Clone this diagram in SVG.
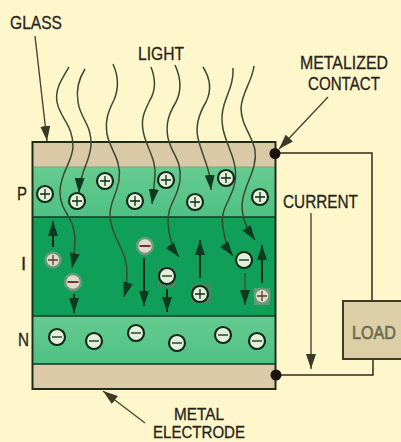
<svg xmlns="http://www.w3.org/2000/svg" width="401" height="442" viewBox="0 0 401 442">
<style>
.t{font-family:"Liberation Sans",Arial,sans-serif;font-size:18.5px;fill:#26241a;stroke:#26241a;stroke-width:.3px}
.f{font-size:16px}
.w{fill:none;stroke:#3a4a30;stroke-width:1.500}
.l{fill:none;stroke:#4a4632;stroke-width:1.400}
.s{fill:none;stroke:#302c1c;stroke-width:1.500}
.c{fill:#e2f0da;stroke:#0d2a18;stroke-width:2.200}
.d{fill:#dcdcc8;stroke:#6a9a7c;stroke-width:2.500}
.b{fill:none;stroke:#0d2a18;stroke-width:1.300}
</style>
<defs>
<marker id="h2" markerUnits="userSpaceOnUse" markerWidth="16" markerHeight="10" refX="15" refY="5" orient="auto"><path d="M0 0 L15 5 L0 10Z" fill="#0c3a20"/></marker>
<marker id="g" markerUnits="userSpaceOnUse" markerWidth="16" markerHeight="10" refX="15" refY="5" orient="auto"><path d="M0 0 L15 5 L0 10Z" fill="#3a3a28"/></marker>
<linearGradient id="pn" x1="0" y1="0" x2="0" y2="1"><stop offset="0" stop-color="#66cb90"/><stop offset="1" stop-color="#4fc084"/></linearGradient>
<g id="plus"><circle r="8" class="c"/><path d="M-5 0H5M0 -5V5" class="b"/></g>
<g id="minus"><circle r="8" class="c"/><path d="M-5 0H5" class="b"/></g>
<g id="dplus"><circle r="7.500" class="d"/><path d="M-5 0H5M0 -5V5" stroke="#5a3a30" stroke-width="1.300"/></g>
<g id="dminus"><circle r="8" class="d"/><path d="M-5.500 0H5.500" stroke="#7a3030" stroke-width="2"/></g>
</defs>
<rect width="401" height="442" fill="#fff7cc"/>
<g id="cell">
<rect x="33" y="142" width="242" height="25" fill="#dac9a6"/>
<rect x="33" y="167" width="242" height="50" fill="url(#pn)"/>
<rect x="33" y="217" width="242" height="99" fill="#0f9f58"/>
<rect x="33" y="316" width="242" height="48" fill="url(#pn)"/>
<rect x="33" y="364" width="242" height="25" fill="#dcc9a8"/>
<path d="M33 217H275M33 316H275M33 364H275" stroke="#123a20" stroke-width="1.300" fill="none"/>
<path d="M33 167H275" stroke="#7ba878" stroke-width="1" fill="none"/>
<rect x="32.500" y="142" width="243" height="247" fill="none" stroke="#1e2c18" stroke-width="2"/>
</g>
<g id="connectors">
<path class="w" marker-end="url(#h2)" d="M69 67C60 82 55 90 57 102C60 118 73 125 73 146C73 162 60 172 60 192C60 212 74 216 75 238C75 250 74 258 72 268"/>
<path class="w" marker-end="url(#h2)" d="M85 69C78 80 76 90 78 102C80 118 92 125 91 145C90 163 80 170 79 193"/>
<path class="w" marker-end="url(#h2)" d="M113 64C118 75 119 88 114 100C108 112 105 120 107 134C110 150 122 160 119 180C117 195 109 202 110 217C112 240 128 250 127 275C127 282 126 290 124 297"/>
<path class="w" marker-end="url(#h2)" d="M151 67C156 80 156 90 150 100C144 112 140 120 144 135C148 150 156 160 155 175C154 188 153 196 152 204"/>
<path class="w" marker-end="url(#h2)" d="M175 65C181 78 182 90 176 102C170 112 165 122 168 138C172 155 182 160 180 180C178 198 167 205 168 223C169 238 172 248 179 257"/>
<path class="w" marker-end="url(#h2)" d="M203 67C210 78 212 90 206 102C200 112 195 125 198 138C201 152 208 165 210 178L211 190"/>
<path class="w" marker-end="url(#h2)" d="M233 68C234 82 228 92 224 105C219 122 224 135 230 150C236 165 238 178 232 192C227 205 220 212 223 228C225 240 227 248 233 256"/>
<path class="w" marker-end="url(#h2)" d="M254 66C252 82 242 92 241 108C241 125 252 135 255 150C258 170 243 185 242 205C242 220 248 230 255 240"/>
<g fill="none" stroke="#0c2a18" stroke-width="2">
<path marker-end="url(#h2)" d="M53 247V221"/><path marker-end="url(#h2)" d="M74 294V313"/><path marker-end="url(#h2)" d="M144 258V306"/><path marker-end="url(#h2)" d="M167 289V312"/><path marker-end="url(#h2)" d="M200 278V240"/><path marker-end="url(#h2)" d="M262 283V245"/>
<path marker-end="url(#h2)" stroke="#2f6a42" d="M245 273V305"/>
</g>
<path class="l" marker-end="url(#g)" d="M35 36L47 141"/>
<path class="l" marker-end="url(#g)" d="M328 97L279 149"/>
<path class="l" marker-end="url(#g)" d="M145 423L103 391"/>
<path class="l" marker-end="url(#g)" d="M311 213V369"/>
<path class="s" d="M275 153H372V301M373 359V375H276"/>
</g>
<g id="contact-top"><circle cx="275" cy="153.500" r="5.500" fill="#1a1410"/></g>
<g id="contact-bottom"><circle cx="276" cy="375" r="5.500" fill="#1a1410"/></g>
<g id="load"><rect x="343" y="301" width="59" height="58" fill="#dccfa6" stroke="#3e3a24" stroke-width="2"/><text x="352" y="339" textLength="44" lengthAdjust="spacingAndGlyphs" class="t" style="fill:#6e6a52;stroke:#6e6a52;stroke-width:.6">LOAD</text></g>
<g id="charges">
<use href="#plus" x="45" y="194"/><use href="#plus" x="77" y="201"/><use href="#plus" x="105" y="181"/><use href="#plus" x="135" y="201"/><use href="#plus" x="166" y="180"/><use href="#plus" x="195" y="202"/><use href="#plus" x="226" y="178"/><use href="#plus" x="260" y="197"/>
<use href="#dplus" x="53" y="260"/><use href="#dminus" x="73" y="282"/><use href="#dminus" x="145" y="246"/>
<rect x="158" y="268" width="18" height="20" fill="#3f8a5e"/><use href="#minus" x="167" y="276"/>
<rect x="191" y="284" width="20" height="20" fill="#3f8a5e"/><use href="#plus" x="200" y="294"/>
<use href="#minus" x="244" y="260"/>
<rect x="254" y="288" width="16" height="17" fill="#5d9a78"/><use href="#dplus" x="262" y="296"/>
<use href="#minus" x="57" y="337"/><use href="#minus" x="94" y="341"/><use href="#minus" x="136" y="333"/><use href="#minus" x="177" y="343"/><use href="#minus" x="223" y="335"/><use href="#minus" x="257" y="341"/>
</g>
<g id="labels">
<text class="t" x="10" y="29" textLength="52" lengthAdjust="spacingAndGlyphs">GLASS</text>
<text class="t" x="138" y="60" textLength="46" lengthAdjust="spacingAndGlyphs">LIGHT</text>
<text class="t" x="300" y="69" textLength="88" lengthAdjust="spacingAndGlyphs">METALIZED</text>
<text class="t" x="308" y="90" textLength="72" lengthAdjust="spacingAndGlyphs">CONTACT</text>
<text class="t" x="283" y="208" textLength="75" lengthAdjust="spacingAndGlyphs">CURRENT</text>
<text class="t" x="17" y="200" textLength="10" lengthAdjust="spacingAndGlyphs">P</text>
<text class="t" x="21" y="270">I</text>
<text class="t" x="18" y="346" textLength="11" lengthAdjust="spacingAndGlyphs">N</text>
<text class="t f" x="174" y="419.500" textLength="50" lengthAdjust="spacingAndGlyphs">METAL</text>
<text class="t f" x="153" y="438" textLength="92" lengthAdjust="spacingAndGlyphs">ELECTRODE</text>
</g>
</svg>
